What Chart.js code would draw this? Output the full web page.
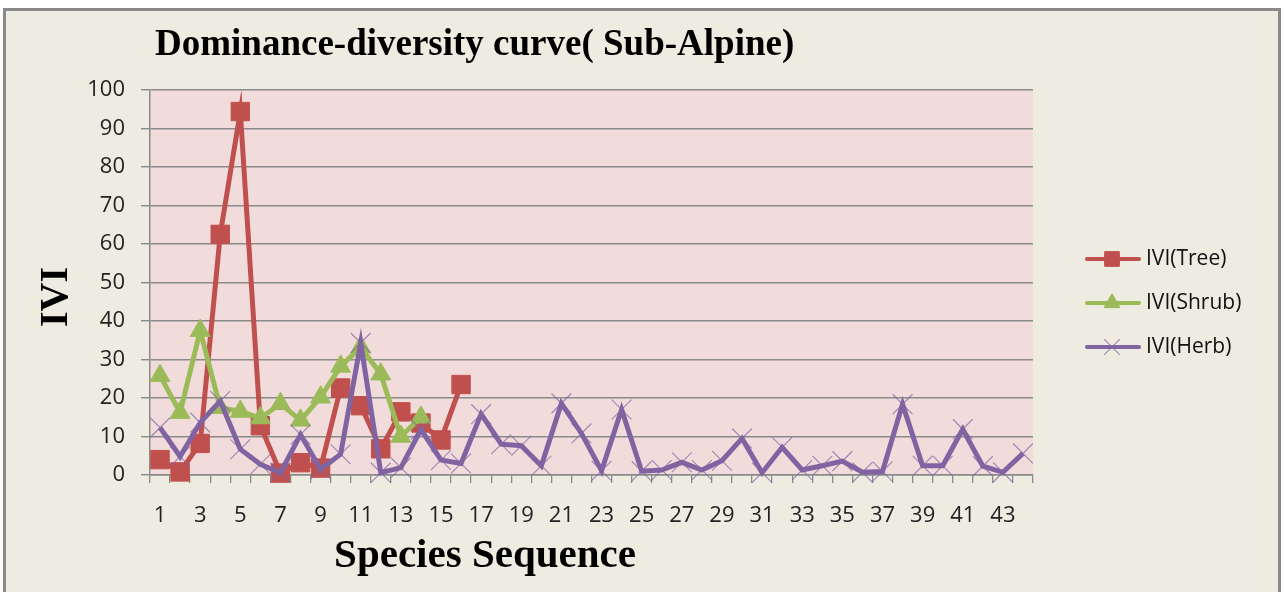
<!DOCTYPE html>
<html>
<head>
<meta charset="utf-8">
<script src="https://cdn.jsdelivr.net/npm/chart.js@4/dist/chart.umd.min.js"></script>
<style>
html,body{margin:0;padding:0;background:#fff;}
canvas{display:block;}
</style>
</head>
<body>
<canvas id="c" width="1285" height="592"></canvas>
<script>
const categories = Array.from({length: 44}, (_, i) => String(i + 1));
const treeIVI = [4, 0.8, 8.2, 62.5, 94.4, 12.8, 0.5, 3.2, 1.8, 22.6, 18, 6.8, 16.4, 13.5, 9.1, 23.5];
const shrubIVI = [25.8, 16.2, 37.5, 17.5, 16.5, 14.8, 18.5, 14.2, 20.2, 28.2, 33.2, 26.2, 10, 15];
const herbIVI = [12.3, 4.8, 13.6, 19.2, 6.7, 2.8, 0.6, 10.5, 1.5, 5.4,
                 34.3, 0.6, 1.9, 11.8, 3.9, 3, 15.8, 8, 7.6, 2.4,
                 18.6, 10.8, 1.1, 17, 1, 1.3, 3.3, 1.3, 3.7, 9.5,
                 0.6, 7.2, 1.3, 2.4, 3.6, 0.7, 0.9, 18.4, 2.4, 2.4,
                 11.9, 2.3, 0.7, 5.6];
const seriesNames = ['IVI(Tree)', 'IVI(Shrub)', 'IVI(Herb)'];
const titleText = 'Dominance-diversity curve( Sub-Alpine)';
const xTitle = 'Species Sequence';
const yTitle = 'IVI';

const RED = '#C0504D', GREEN = '#9BBB59', PURPLE = '#8064A2';
const GRID = '#8A8A8A';
const TICKFONT = {family: '"Open Sans", sans-serif', size: 22};

const decor = {
  id: 'decor',
  beforeDraw(chart) {
    const ctx = chart.ctx, a = chart.chartArea;
    ctx.save();
    ctx.fillStyle = '#ffffff';
    ctx.fillRect(0, 0, chart.width, chart.height);
    ctx.fillStyle = '#EEEBE0';
    ctx.fillRect(4, 9, 1276, 600);
    ctx.strokeStyle = '#8A8A8A';
    ctx.lineWidth = 3;
    ctx.strokeRect(4.5, 9.5, 1275, 600);
    ctx.fillStyle = '#F2DCDB';
    ctx.fillRect(a.left, a.top, a.right - a.left, a.bottom - a.top);
    ctx.restore();
  },
  afterDraw(chart) {
    const ctx = chart.ctx;
    ctx.save();
    ctx.fillStyle = '#000';
    ctx.textBaseline = 'alphabetic';
    ctx.font = 'bold 37px "Liberation Serif", serif';
    ctx.textAlign = 'left';
    ctx.fillText(titleText, 155, 55);
    ctx.font = 'bold 41px "Liberation Serif", serif';
    ctx.textAlign = 'center';
    ctx.fillText(xTitle, 485, 567);
    ctx.save();
    ctx.translate(67, 297);
    ctx.rotate(-Math.PI / 2);
    ctx.font = 'bold 40px "Liberation Serif", serif';
    ctx.fillText(yTitle, 0, 0);
    ctx.restore();
    // legend
    const rows = [259, 303, 347];
    chart.data.datasets.forEach((ds, i) => {
      const y = rows[i];
      ctx.strokeStyle = ds.borderColor;
      ctx.lineWidth = 4;
      ctx.lineCap = 'round';
      ctx.beginPath();
      ctx.moveTo(1087, y);
      ctx.lineTo(1139, y);
      ctx.stroke();
      ctx.lineCap = 'butt';
      ctx.fillStyle = ds.pointBackgroundColor;
      ctx.strokeStyle = ds.pointBorderColor;
      ctx.lineWidth = ds.pointBorderWidth;
      Chart.helpers.drawPoint(ctx, {
        pointStyle: ds.pointStyle,
        rotation: 0,
        radius: ds.pointRadius * 0.8,
        borderWidth: ds.pointBorderWidth
      }, 1112, y);
      ctx.fillStyle = '#111';
      ctx.font = '21px "Open Sans", sans-serif';
      ctx.textAlign = 'left';
      ctx.textBaseline = 'middle';
      ctx.fillText(seriesNames[i], 1146, y);
    });
    ctx.restore();
  }
};

new Chart(document.getElementById('c'), {
  type: 'line',
  data: {
    labels: categories,
    datasets: [
      {label: seriesNames[0], data: treeIVI, borderColor: RED, backgroundColor: RED,
       pointBackgroundColor: RED, pointBorderColor: RED, borderWidth: 5,
       pointStyle: 'rect', pointRadius: 13, pointBorderWidth: 1, order: 3, clip: false},
      {label: seriesNames[1], data: shrubIVI, borderColor: GREEN, backgroundColor: GREEN,
       pointBackgroundColor: GREEN, pointBorderColor: GREEN, borderWidth: 5,
       pointStyle: 'triangle', pointRadius: 11.5, pointBorderWidth: 1, order: 2, clip: false},
      {label: seriesNames[2], data: herbIVI, borderColor: PURPLE, backgroundColor: PURPLE,
       pointBackgroundColor: PURPLE, pointBorderColor: 'rgba(128,100,162,0.7)', borderWidth: 5,
       pointStyle: 'crossRot', pointRadius: 14, pointBorderWidth: 1.2, order: 1, clip: false}
    ]
  },
  options: {
    responsive: false,
    animation: false,
    devicePixelRatio: 1,
    layout: {padding: {top: 90, left: 0, right: 252, bottom: 0}},
    elements: {line: {tension: 0}},
    plugins: {legend: {display: false}, title: {display: false}, tooltip: {enabled: false}},
    scales: {
      x: {
        type: 'category',
        offset: true,
        grid: {display: true, drawOnChartArea: false, offset: true, tickLength: 8, color: GRID, lineWidth: 1.3},
        border: {display: true, color: GRID, width: 1.5},
        ticks: {
          autoSkip: false, maxRotation: 0, minRotation: 0, padding: 20,
          color: '#222', font: TICKFONT,
          callback: function(v, i) { return i % 2 === 0 ? this.getLabelForValue(v) : ''; }
        },
        afterFit(s) { s.height = 117; }
      },
      y: {
        min: 0, max: 100,
        grid: {color: GRID, lineWidth: 1.4, tickLength: 9},
        border: {display: true, color: GRID, width: 1.5},
        ticks: {stepSize: 10, padding: 16, color: '#222', font: TICKFONT},
        afterFit(s) { s.width = 150; }
      }
    }
  },
  plugins: [decor]
});
</script>
</body>
</html>
